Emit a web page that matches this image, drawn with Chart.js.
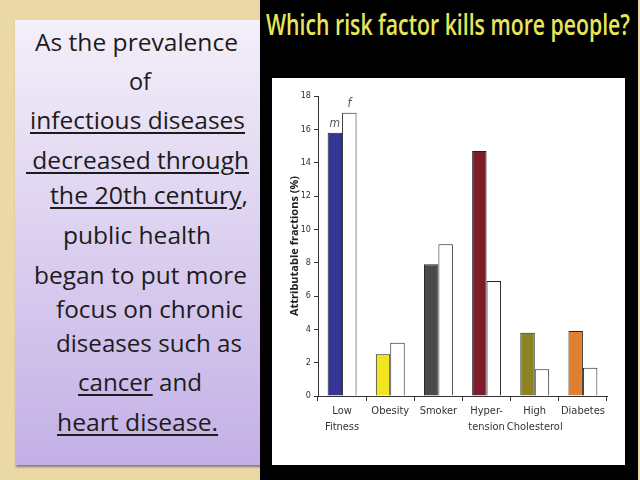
<!DOCTYPE html>
<html>
<head>
<meta charset="utf-8">
<script src="https://cdn.jsdelivr.net/npm/chart.js@4.4.1/dist/chart.umd.min.js"></script>
<style>
  html, body { margin: 0; padding: 0; }
  body { width: 640px; height: 480px; position: relative; overflow: hidden;
         background: #ead8a6; font-family: 'Open Sans', sans-serif; }
  #panel { position: absolute; left: 15px; top: 20px; width: 250px; height: 445px;
           background: linear-gradient(#f4eff9, #c3b0e6);
           box-shadow: 1px 2px 2px rgba(60, 40, 90, 0.55); }
  .line { position: absolute; white-space: pre; font-size: 24px; line-height: 30px;
          color: #1c1c1c; display: inline-block; transform-origin: 0 50%; }
  .u { text-decoration: underline; text-decoration-thickness: 1.5px; text-underline-offset: 3px; }
  #black { position: absolute; left: 260px; top: 0; width: 378px; height: 480px; background: #000; }
  #title { position: absolute; left: 266px; top: 4px; white-space: pre; font-size: 28px;
           line-height: 40px; font-weight: 600; color: #e6e65a; display: inline-block;
           transform-origin: 0 50%; }
  #box { position: absolute; left: 272px; top: 78px; width: 353px; height: 387px; background: #fff; }
</style>
</head>
<body>
<div id="panel"></div>
<div id="black"></div>
<div id="title" data-w="364">Which risk factor kills more people?</div>
<div id="box"><canvas id="chart"></canvas></div>

<div class="line" style="left:35px;top:27px" data-w="203">As the prevalence</div>
<div class="line" style="left:129px;top:66px" data-w="22">of</div>
<div class="line" style="left:30px;top:105px" data-w="215"><span class="u">infectious diseases</span></div>
<div class="line" style="left:26px;top:145px" data-w="223"><span class="u">&nbsp;decreased through</span></div>
<div class="line" style="left:50px;top:180px" data-w="198"><span class="u">the 20th century</span>,</div>
<div class="line" style="left:63px;top:220px" data-w="148">public health</div>
<div class="line" style="left:34px;top:260px" data-w="213">began to put more</div>
<div class="line" style="left:56px;top:294px" data-w="187">focus on chronic</div>
<div class="line" style="left:56px;top:328px" data-w="186">diseases such as</div>
<div class="line" style="left:78px;top:367px" data-w="124"><span class="u">cancer</span> and</div>
<div class="line" style="left:57px;top:407px" data-w="161"><span class="u">heart disease.</span></div>

<script>
// --- dados do gráfico ---
const categories = [['Low', 'Fitness'], ['Obesity'], ['Smoker'], ['Hyper-', 'tension'], ['High', 'Cholesterol'], ['Diabetes']];
const maleValues = [15.8, 2.5, 7.9, 14.7, 3.8, 3.9];
const femaleValues = [17.0, 3.2, 9.1, 6.9, 1.6, 1.7];
const maleColors = ['#343594', '#f2e41e', '#4a4a4a', '#7d1c2b', '#8c8322', '#e07f2e'];
const seriesLabels = ['m', 'f'];
const yTickMax = 18;
const yTickStep = 2;

// ajusta a largura dos textos ao original
document.querySelectorAll('[data-w]').forEach(el => {
    const w = el.getBoundingClientRect().width;
    el.style.transform = 'scaleX(' + (parseFloat(el.dataset.w) / w) + ')';
});

const narrow = "'Liberation Sans Narrow', 'DejaVu Sans Condensed', sans-serif";

// rótulos m / f por cima das primeiras barras
const seriesTags = {
    id: 'seriesTags',
    afterDatasetsDraw(chart) {
        const ctx = chart.ctx;
        ctx.save();
        ctx.font = 'italic 12px ' + narrow;
        ctx.fillStyle = '#555';
        ctx.textAlign = 'center';
        ctx.textBaseline = 'middle';
        chart.data.datasets.forEach((ds, i) => {
            const bar = chart.getDatasetMeta(i).data[0];
            ctx.fillText(seriesLabels[i], bar.x, bar.y - 9);
        });
        ctx.restore();
    }
};

new Chart(document.getElementById('chart').getContext('2d'), {
    type: 'bar',
    data: {
        labels: categories,
        datasets: [
            { label: seriesLabels[0], data: maleValues, backgroundColor: maleColors, borderColor: '#222', borderWidth: 1 },
            { label: seriesLabels[1], data: femaleValues, backgroundColor: '#fff', borderColor: '#222', borderWidth: 1 }
        ]
    },
    options: {
        responsive: true,
        maintainAspectRatio: false,
        animation: false,
        layout: { padding: { left: 0, top: 18, right: 18, bottom: 29 } },
        datasets: { bar: { categoryPercentage: 0.6, barPercentage: 1.0 } },
        plugins: { legend: { display: false }, tooltip: { enabled: false } },
        scales: {
            x: {
                grid: { drawOnChartArea: false, tickLength: 5, color: '#333' },
                border: { color: '#333', width: 1 },
                ticks: {
                    padding: 2, color: '#333', autoSkip: false, maxRotation: 0, minRotation: 0,
                    font: { family: narrow, size: 11, lineHeight: 1.45 }
                },
                afterFit(scale) { scale.height = 40; }
            },
            y: {
                min: 0,
                max: yTickMax,
                grid: { drawOnChartArea: false, tickLength: 4, color: '#333' },
                border: { color: '#333', width: 1 },
                ticks: { stepSize: yTickStep, padding: 3, color: '#333', font: { family: narrow, size: 9 } },
                title: {
                    display: true,
                    text: 'Attributable fractions (%)',
                    color: '#222',
                    padding: { top: 16, bottom: 0 },
                    font: { family: "'Open Sans', sans-serif", size: 11, weight: 'bold' }
                },
                afterFit(scale) { scale.width = 46; }
            }
        }
    },
    plugins: [seriesTags]
});
</script>
</body>
</html>
